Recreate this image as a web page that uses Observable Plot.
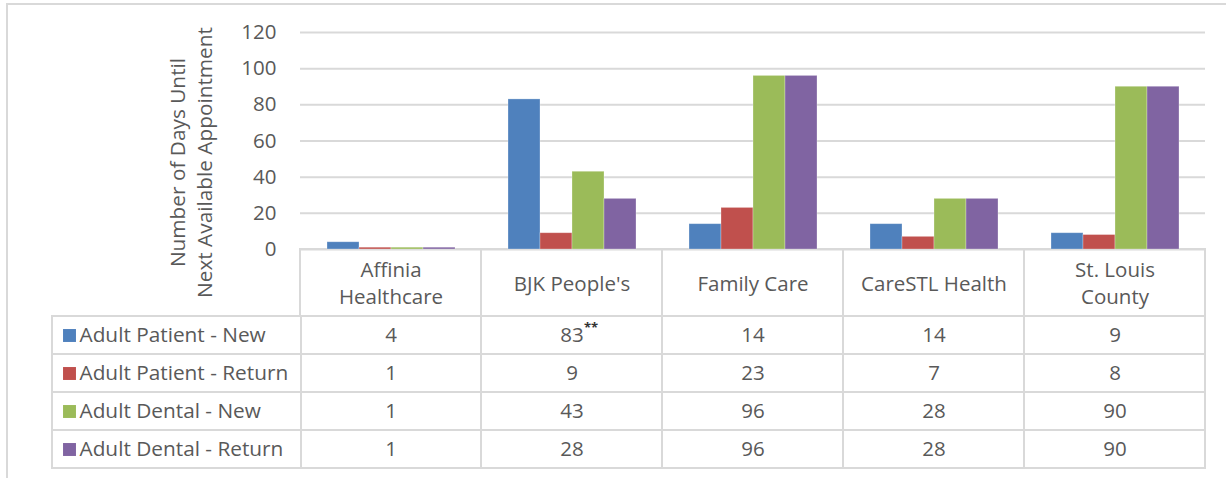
<!DOCTYPE html>
<html>
<head>
<meta charset="utf-8">
<script src="https://cdn.jsdelivr.net/npm/d3@7"></script>
<script src="https://cdn.jsdelivr.net/npm/@observablehq/plot@0.6"></script>
<style>
  html, body { margin: 0; padding: 0; background: #fff; }
  #wrap { position: relative; width: 1226px; height: 478px; overflow: hidden; background: #fff; font-family: "Open Sans", sans-serif; }
  #frame { position: absolute; left: 6px; top: 3px; width: 1240px; height: 500px; border-top: 2px solid #d9d9d9; border-left: 2px solid #d9d9d9; box-sizing: border-box; }
  .layer { position: absolute; }
  .layer svg { display: block; overflow: visible; }
</style>
</head>
<body>
<div id="wrap">
  <div id="frame"></div>
  <div id="header" class="layer" style="left:0;top:248px"></div>
  <div id="rows" class="layer" style="left:0;top:315px"></div>
  <div id="legend" class="layer" style="left:51px;top:315px"></div>
  <div id="chart" class="layer" style="left:0;top:0"></div>
</div>
<script>
// ---- data ----
const categories = ["Affinia Healthcare", "BJK People's", "Family Care", "CareSTL Health", "St. Louis County"];
const headerLabels = ["Affinia\nHealthcare", "BJK People's", "Family Care", "CareSTL Health", "St. Louis\nCounty"];
const series = ["Adult Patient - New", "Adult Patient - Return", "Adult Dental - New", "Adult Dental - Return"];
const patientNew = [4, 83, 14, 14, 9];
const patientReturn = [1, 9, 23, 7, 8];
const dentalNew = [1, 43, 96, 28, 90];
const dentalReturn = [1, 28, 96, 28, 90];
const colors = ["#4F81BD", "#C0504D", "#9BBB59", "#8064A2"];
const yTicks = [0, 20, 40, 60, 80, 100, 120];
const yTitle = "Number of Days Until\nNext Available Appointment";
const notes = [{category: "BJK People's", series: "Adult Patient - New", mark: "**"}];

const seriesValues = [patientNew, patientReturn, dentalNew, dentalReturn];
const data = [];
series.forEach((s, i) => categories.forEach((c, j) => data.push({category: c, series: s, value: seriesValues[i][j]})));

const gridColor = "#d9d9d9";
const textColor = "#595959";
const baseStyle = {fontFamily: "Open Sans, sans-serif", fontSize: "20px", color: textColor, background: "transparent", overflow: "visible"};

// ---- chart ----
const chart = Plot.plot({
  width: 1226, height: 252,
  marginTop: 32, marginBottom: 3, marginLeft: 300, marginRight: 21,
  style: baseStyle,
  fx: {domain: categories, paddingInner: 0, paddingOuter: 0, axis: null, label: null},
  x: {domain: series, paddingInner: 0, paddingOuter: 0.76, axis: null, label: null},
  y: {domain: [0, 120], axis: null, label: null},
  color: {domain: series, range: colors},
  marks: [
    Plot.gridY(yTicks, {stroke: gridColor, strokeOpacity: 1, strokeWidth: 2}),
    Plot.axisY(yTicks, {tickSize: 0, tickPadding: 24, label: null, fontSize: 20.5, fill: textColor}),
    Plot.barY(data, {fx: "category", x: "series", y: "value", fill: "series", stroke: "white", strokeOpacity: 0.35, strokeWidth: 0.8}),
    Plot.text([yTitle], {fx: () => categories[0], frameAnchor: "left", dx: -111, dy: 21.5, rotate: -90, textAnchor: "middle", lineAnchor: "middle", text: d => d, lineHeight: 1.33, fontSize: 20.8, fill: textColor})
  ]
});
document.getElementById("chart").appendChild(chart);

// ---- header row ----
const header = Plot.plot({
  width: 1226, height: 70,
  marginTop: 1, marginBottom: 2, marginLeft: 300, marginRight: 21,
  style: baseStyle,
  x: {domain: categories, paddingInner: 0, paddingOuter: 0, axis: null},
  marks: [
    Plot.cell(categories, {x: d => d, fill: "white", stroke: gridColor, strokeWidth: 2}),
    Plot.text(categories, {x: d => d, text: (d, i) => headerLabels[i], frameAnchor: "middle", dy: -1, lineHeight: 1.33, fontSize: 20.5, fill: textColor})
  ]
});
document.getElementById("header").appendChild(header);

// ---- value rows ----
const rows = Plot.plot({
  width: 1226, height: 155,
  marginTop: 1, marginBottom: 2, marginLeft: 300, marginRight: 21,
  style: baseStyle,
  x: {domain: categories, paddingInner: 0, paddingOuter: 0, axis: null},
  y: {domain: series, paddingInner: 0, paddingOuter: 0, axis: null},
  marks: [
    Plot.cell(data, {x: "category", y: "series", fill: "white", stroke: gridColor, strokeWidth: 2}),
    Plot.text(data, {x: "category", y: "series", text: d => String(d.value), fontSize: 20.5, fill: textColor}),
    Plot.text(notes, {x: "category", y: "series", text: "mark", textAnchor: "start", dx: 12, dy: -8, fontSize: 13, fontWeight: "bold", fill: "#333"})
  ]
});
document.getElementById("rows").appendChild(rows);

// ---- legend column ----
const legend = Plot.plot({
  width: 251, height: 155,
  marginTop: 1, marginBottom: 2, marginLeft: 1, marginRight: 1,
  style: baseStyle,
  y: {domain: series, paddingInner: 0, paddingOuter: 0, axis: null},
  color: {domain: series, range: colors},
  marks: [
    Plot.cell(series, {y: d => d, fill: "white", stroke: gridColor, strokeWidth: 2}),
    Plot.dot(series, {y: d => d, frameAnchor: "left", dx: 17, symbol: "square", r: 7.3, fill: d => d, stroke: null}),
    Plot.text(series, {y: d => d, text: d => d, frameAnchor: "left", dx: 27, textAnchor: "start", fontSize: 20.8, fill: textColor})
  ]
});
document.getElementById("legend").appendChild(legend);
</script>
</body>
</html>
